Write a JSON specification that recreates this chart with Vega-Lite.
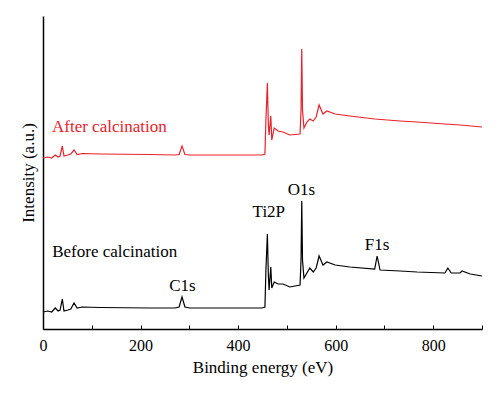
{
  "$schema": "https://vega.github.io/schema/vega-lite/v6.json",
  "width": 439,
  "height": 313,
  "autosize": {"type": "none"},
  "padding": {"left": 43, "top": 16, "right": 18, "bottom": 70},
  "config": {
    "view": {"stroke": null},
    "font": "Liberation Serif",
    "axis": {"grid": false, "domainColor": "#000000", "domainWidth": 1.5, "tickColor": "#000000", "labelFont": "Liberation Serif", "titleFont": "Liberation Serif", "labelColor": "#000000", "titleColor": "#000000", "titleFontWeight": "normal"}
  },
  "datasets": {
    "spectra": [
      {"series": "before", "E": 0, "v": 17}, {"series": "before", "E": 10, "v": 18}, {"series": "before", "E": 18, "v": 17}, {"series": "before", "E": 25, "v": 21}, {"series": "before", "E": 31, "v": 18}, {"series": "before", "E": 35, "v": 19}, {"series": "before", "E": 39.6, "v": 30}, {"series": "before", "E": 43, "v": 18}, {"series": "before", "E": 51, "v": 19}, {"series": "before", "E": 57, "v": 20}, {"series": "before", "E": 63.6, "v": 26}, {"series": "before", "E": 70, "v": 21}, {"series": "before", "E": 80, "v": 22}, {"series": "before", "E": 117, "v": 21.5}, {"series": "before", "E": 219, "v": 21}, {"series": "before", "E": 271, "v": 21}, {"series": "before", "E": 279, "v": 22}, {"series": "before", "E": 285, "v": 32}, {"series": "before", "E": 291, "v": 22}, {"series": "before", "E": 301, "v": 21}, {"series": "before", "E": 383, "v": 21}, {"series": "before", "E": 449, "v": 21}, {"series": "before", "E": 455, "v": 22}, {"series": "before", "E": 457, "v": 59}, {"series": "before", "E": 460, "v": 95}, {"series": "before", "E": 462, "v": 54}, {"series": "before", "E": 463.5, "v": 39}, {"series": "before", "E": 467, "v": 62}, {"series": "before", "E": 469, "v": 41}, {"series": "before", "E": 474, "v": 47}, {"series": "before", "E": 482, "v": 45}, {"series": "before", "E": 492, "v": 45}, {"series": "before", "E": 506, "v": 42}, {"series": "before", "E": 527, "v": 44}, {"series": "before", "E": 529, "v": 69}, {"series": "before", "E": 530.5, "v": 128}, {"series": "before", "E": 532, "v": 69}, {"series": "before", "E": 535, "v": 51}, {"series": "before", "E": 541, "v": 56}, {"series": "before", "E": 547, "v": 61}, {"series": "before", "E": 554, "v": 57}, {"series": "before", "E": 560, "v": 61}, {"series": "before", "E": 566, "v": 73}, {"series": "before", "E": 574, "v": 64}, {"series": "before", "E": 582, "v": 67}, {"series": "before", "E": 599, "v": 64}, {"series": "before", "E": 629, "v": 62}, {"series": "before", "E": 680, "v": 60}, {"series": "before", "E": 685, "v": 73}, {"series": "before", "E": 691, "v": 59}, {"series": "before", "E": 732, "v": 58}, {"series": "before", "E": 767, "v": 57}, {"series": "before", "E": 824, "v": 56}, {"series": "before", "E": 830, "v": 61}, {"series": "before", "E": 837, "v": 56}, {"series": "before", "E": 855, "v": 56}, {"series": "before", "E": 859, "v": 58}, {"series": "before", "E": 876, "v": 55}, {"series": "before", "E": 900, "v": 53},
      {"series": "after", "E": 0, "v": 171}, {"series": "after", "E": 10, "v": 172}, {"series": "after", "E": 18, "v": 171}, {"series": "after", "E": 25, "v": 174}, {"series": "after", "E": 31, "v": 172}, {"series": "after", "E": 35, "v": 173}, {"series": "after", "E": 39.6, "v": 183}, {"series": "after", "E": 43, "v": 173}, {"series": "after", "E": 51, "v": 174}, {"series": "after", "E": 57, "v": 175}, {"series": "after", "E": 63.6, "v": 179}, {"series": "after", "E": 70, "v": 174.5}, {"series": "after", "E": 80, "v": 175.5}, {"series": "after", "E": 117, "v": 175}, {"series": "after", "E": 219, "v": 174.5}, {"series": "after", "E": 271, "v": 174}, {"series": "after", "E": 279, "v": 174.5}, {"series": "after", "E": 285, "v": 183}, {"series": "after", "E": 291, "v": 174.5}, {"series": "after", "E": 301, "v": 174}, {"series": "after", "E": 383, "v": 174}, {"series": "after", "E": 449, "v": 174}, {"series": "after", "E": 455, "v": 175}, {"series": "after", "E": 457, "v": 209}, {"series": "after", "E": 460, "v": 246}, {"series": "after", "E": 462, "v": 204}, {"series": "after", "E": 463.5, "v": 194}, {"series": "after", "E": 467, "v": 213}, {"series": "after", "E": 469, "v": 189}, {"series": "after", "E": 474, "v": 201}, {"series": "after", "E": 482, "v": 198}, {"series": "after", "E": 492, "v": 197}, {"series": "after", "E": 506, "v": 194}, {"series": "after", "E": 527, "v": 195}, {"series": "after", "E": 529, "v": 219}, {"series": "after", "E": 530.5, "v": 280}, {"series": "after", "E": 532, "v": 219}, {"series": "after", "E": 535, "v": 201}, {"series": "after", "E": 541, "v": 207}, {"series": "after", "E": 547, "v": 210}, {"series": "after", "E": 554, "v": 208}, {"series": "after", "E": 560, "v": 212}, {"series": "after", "E": 566, "v": 224}, {"series": "after", "E": 574, "v": 215}, {"series": "after", "E": 582, "v": 218}, {"series": "after", "E": 599, "v": 215}, {"series": "after", "E": 629, "v": 213}, {"series": "after", "E": 680, "v": 210}, {"series": "after", "E": 732, "v": 208}, {"series": "after", "E": 767, "v": 207}, {"series": "after", "E": 824, "v": 205}, {"series": "after", "E": 855, "v": 204}, {"series": "after", "E": 900, "v": 202}
    ],
    "labels": [
      {"series": "after", "E": 136, "v": 202, "text": "After calcination"},
      {"series": "before", "E": 147, "v": 77, "text": "Before calcination"},
      {"series": "before", "E": 286, "v": 43, "text": "C1s"},
      {"series": "before", "E": 463, "v": 117, "text": "Ti2P"},
      {"series": "before", "E": 530, "v": 139, "text": "O1s"},
      {"series": "before", "E": 685, "v": 84, "text": "F1s"}
    ]
  },
  "layer": [
    {
      "data": {"name": "spectra"},
      "mark": {"type": "line", "strokeWidth": 1.2, "interpolate": "linear"},
      "encoding": {
        "x": {"field": "E", "type": "quantitative", "scale": {"domain": [0, 900], "nice": false, "zero": false},
          "axis": {"title": "Binding energy (eV)", "values": [0, 100, 200, 300, 400, 500, 600, 700, 800, 900], "labelExpr": "datum.value % 200 === 0 ? datum.label : ''", "tickSize": -4, "labelPadding": 12, "labelFontSize": 16, "titleFontSize": 17, "titlePadding": 6, "labelFlush": false}},
        "y": {"field": "v", "type": "quantitative", "scale": {"domain": [0, 313], "nice": false, "zero": false},
          "axis": {"title": "Intensity (a.u.)", "ticks": false, "labels": false, "titleFontSize": 17, "titlePadding": 6}},
        "color": {"field": "series", "type": "nominal", "scale": {"domain": ["before", "after"], "range": ["#000000", "#e8222b"]}, "legend": null},
        "detail": {"field": "series"}
      }
    },
    {
      "data": {"name": "labels"},
      "mark": {"type": "text", "font": "Liberation Serif", "fontSize": 17, "align": "center", "baseline": "middle"},
      "encoding": {
        "x": {"field": "E", "type": "quantitative"},
        "y": {"field": "v", "type": "quantitative"},
        "text": {"field": "text"},
        "color": {"field": "series", "type": "nominal", "legend": null}
      }
    }
  ]
}
